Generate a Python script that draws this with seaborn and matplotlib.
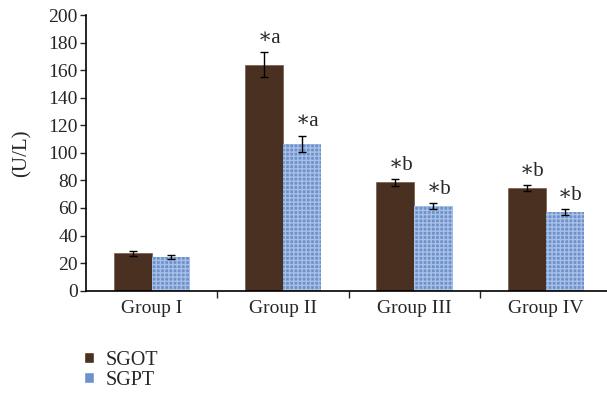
import numpy as np
import pandas as pd
import matplotlib
matplotlib.use("Agg")
import matplotlib.pyplot as plt
import seaborn as sns

groups = ["Group I", "Group II", "Group III", "Group IV"]
sgot = [27, 164, 78.5, 74.5]
sgpt = [24.5, 106.5, 61.5, 57]
sgot_err = [2, 9, 2.5, 2]
sgpt_err = [1.5, 6, 2, 2]
sgot_sig = ["", "∗a", "∗b", "∗b"]
sgpt_sig = ["", "∗a", "∗b", "∗b"]

df = pd.DataFrame({
    "group": groups * 2,
    "enzyme": ["SGOT"] * 4 + ["SGPT"] * 4,
    "value": sgot + sgpt,
})
errs = sgot_err + sgpt_err
sigs = sgot_sig + sgpt_sig

sns.set_style("white")
plt.rcParams["font.family"] = ["Liberation Serif", "DejaVu Serif"]

fig = plt.figure(figsize=(6.07, 3.98), dpi=100)
ax = fig.add_axes([0.1417, 0.2696, 0.87, 0.6927])

pal = {"SGOT": "#4a3020", "SGPT": "#6d91cd"}
sns.barplot(data=df, x="group", y="value", hue="enzyme", palette=pal,
            errorbar=None, width=0.58, saturation=1, ax=ax, legend=True)

# texture-ish hatching
for i, p in enumerate(ax.patches[:8]):
    if i < 4:
        p.set_hatch("")
        p.set_edgecolor("#6b4a35")
        p.set_linewidth(0.4)
    else:
        p.set_hatch("++++")
        p.set_edgecolor("#a9c0e6")
        p.set_linewidth(0)

for p, e, s in zip(ax.patches[:8], errs, sigs):
    cx = p.get_x() + p.get_width() / 2
    h = p.get_height()
    ax.errorbar(cx, h, yerr=e, color="black", capsize=3, elinewidth=1, capthick=1)
    if s:
        ax.annotate(s, (cx, h + e), xytext=(4, 3), textcoords="offset points",
                    ha="center", va="bottom", fontsize=15)

ax.set_ylim(0, 200)
ax.set_yticks(np.arange(0, 201, 20))
ax.set_xlim(-0.5, 3.5 + 0.02)
ax.set_xlabel("")
ax.set_ylabel("(U/L)", fontsize=15, labelpad=12)
ax.tick_params(axis="y", labelsize=14, length=4, width=1, direction="out", left=True, pad=2)
ax.tick_params(axis="x", labelsize=14, length=0, pad=7)
ax.set_xticks([0.5, 1.5, 2.5], minor=True)
ax.tick_params(axis="x", which="minor", length=5, width=1, direction="out", bottom=True)
for sp in ["top", "right"]:
    ax.spines[sp].set_visible(False)
for sp in ["left", "bottom"]:
    ax.spines[sp].set_color("black")
    ax.spines[sp].set_linewidth(1.2)

handles, labels = ax.get_legend_handles_labels()
ax.get_legend().remove()
fig.legend(handles, labels, loc="center left", bbox_to_anchor=(0.125, 0.07),
           frameon=False, fontsize=14.5, handlelength=0.5, handleheight=0.5,
           handletextpad=0.6, labelspacing=0.05, borderaxespad=0)

fig.savefig("out.png", dpi=100)
